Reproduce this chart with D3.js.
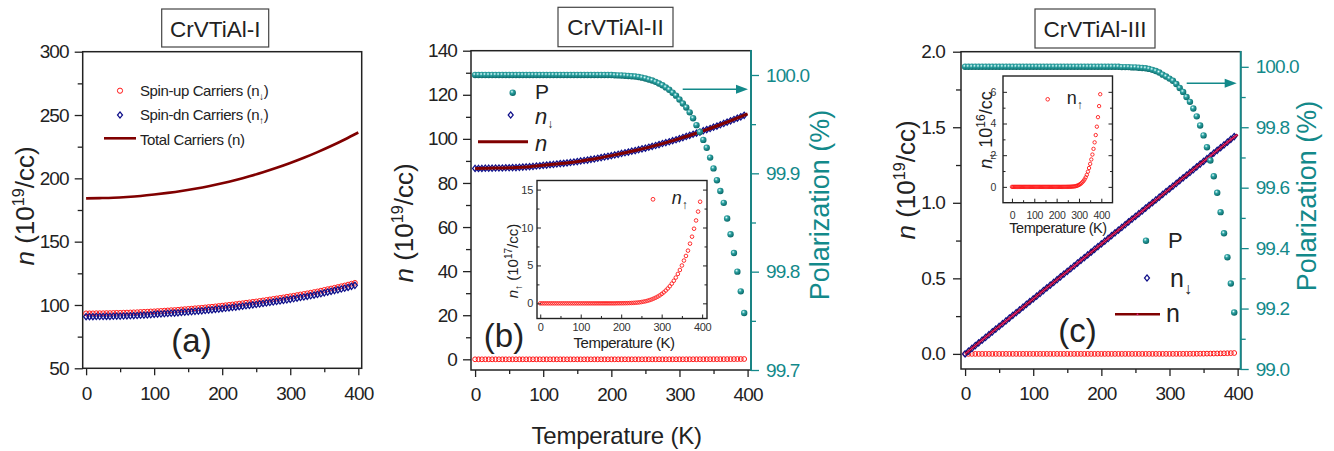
<!DOCTYPE html>
<html>
<head>
<meta charset="utf-8">
<script src="https://cdn.jsdelivr.net/npm/d3@7"></script>
<style>
body { margin: 0; background: #fff; }
svg { display: block; font-family: "Liberation Sans", Arial, sans-serif; }
</style>
</head>
<body>
<div id="chart"></div>
<script>
// temperatures of the marker series (K) and of the smooth lines
var tempK = [0,5,10,15,20,25,30,35,40,45,
  50,55,60,65,70,75,80,85,90,95,
  100,105,110,115,120,125,130,135,140,145,
  150,155,160,165,170,175,180,185,190,195,
  200,205,210,215,220,225,230,235,240,245,
  250,255,260,265,270,275,280,285,290,295,
  300,305,310,315,320,325,330,335,340,345,
  350,355,360,365,370,375,380,385,390,395];
var tempLine = [0,20,40,60,80,100,120,140,160,180,200,220,240,260,280,300,320,340,360,380,400];

// (a) CrVTiAl-I, 10^19/cc
var aSpinUp = [93.4,93.4,93.4,93.5,93.5,93.5,93.6,93.6,93.7,93.8,
  93.8,93.9,94.0,94.1,94.2,94.3,94.5,94.6,94.7,94.9,
  95.0,95.2,95.3,95.5,95.7,95.9,96.0,96.2,96.5,96.7,
  96.9,97.1,97.4,97.6,97.8,98.1,98.4,98.6,98.9,99.2,
  99.5,99.8,100.1,100.4,100.7,101.1,101.4,101.8,102.1,102.5,
  102.8,103.2,103.6,104.0,104.4,104.8,105.2,105.6,106.0,106.5,
  106.9,107.3,107.8,108.3,108.7,109.2,109.7,110.2,110.7,111.3,
  111.9,112.5,113.0,113.6,114.2,114.8,115.4,116.1,116.8,117.5];
var aSpinDn = [90.8,90.8,90.8,90.9,90.9,90.9,91.0,91.0,91.1,91.2,
  91.2,91.3,91.4,91.5,91.6,91.7,91.9,92.0,92.1,92.3,
  92.6,92.8,92.9,93.1,93.3,93.5,93.6,93.8,94.1,94.3,
  94.5,94.7,95.0,95.2,95.4,95.7,96.0,96.2,96.5,96.8,
  97.1,97.4,97.7,98.0,98.3,98.7,99.0,99.4,99.7,100.1,
  100.4,100.8,101.2,101.6,102.0,102.4,102.8,103.2,103.6,104.1,
  104.5,104.9,105.4,105.9,106.3,106.8,107.3,107.8,108.3,108.9,
  109.6,110.2,110.8,111.4,112.0,112.6,113.2,113.9,114.7,115.5];
var aTotal = [184.2,184.4,184.7,185.3,186.1,187.2,188.5,190.0,191.8,193.8,196.1,
  198.7,201.6,204.8,208.3,212.1,216.2,220.7,225.5,230.7,236.2];

// (b) CrVTiAl-II
var bSpinDn = [86.6,86.6,86.6,86.7,86.7,86.7,86.8,86.8,86.8,86.9,
  86.9,87.0,87.0,87.1,87.2,87.3,87.4,87.5,87.7,87.8,
  88.0,88.1,88.3,88.4,88.6,88.8,88.9,89.1,89.3,89.5,
  89.7,90.0,90.2,90.4,90.7,90.9,91.2,91.5,91.8,92.1,
  92.4,92.7,93.0,93.4,93.7,94.0,94.4,94.7,95.1,95.5,
  95.8,96.2,96.6,97.0,97.4,97.9,98.3,98.7,99.2,99.6,
  100.1,100.6,101.1,101.6,102.1,102.6,103.1,103.7,104.2,104.7,
  105.3,105.8,106.4,107.0,107.6,108.2,108.8,109.4,110.0,110.7];
var bTotal = [86.6,86.7,86.8,87.0,87.4,88.0,88.6,89.3,90.2,91.2,92.4,
  93.7,95.1,96.6,98.3,100.1,102.1,104.2,106.4,108.8,111.3];
// spin-up carriers, 10^17/cc (inset)
var bSpinUp = [0,0,0,0,0,0,0,0,0,0,
  0,0,0,0,0,0,0,0,0,0,
  0,0,0,0,0,0,0,0,0,0,
  0,0,0,0,0,0,0,0,0.01,0.01,
  0.01,0.015,0.02,0.025,0.035,0.045,0.06,0.08,0.1,0.13,
  0.17,0.22,0.27,0.34,0.42,0.51,0.62,0.74,0.88,1.04,
  1.23,1.44,1.68,1.95,2.25,2.6,2.98,3.4,3.88,4.4,
  4.99,5.64,6.25,6.95,7.87,8.79,9.84,10.93,12.1,13.4];
var bPol = [100,100,100,100,100,100,100,100,100,100,
  100,100,100,100,100,100,100,100,100,100,
  100,100,100,100,100,100,100,100,100,100,
  100,100,100,100,100,100,100,100,100,100,
  100,99.9997,99.9996,99.9995,99.9993,99.999,99.9987,99.9984,99.998,99.9973,
  99.9965,99.9954,99.9944,99.993,99.9914,99.9896,99.9874,99.985,99.982,99.979,
  99.975,99.971,99.967,99.962,99.956,99.949,99.942,99.934,99.926,99.916,
  99.905,99.893,99.882,99.870,99.854,99.838,99.819,99.800,99.780,99.758];

// (c) CrVTiAl-III
var cSpinDn = [0,0.018,0.036,0.055,0.073,0.091,0.109,0.127,0.146,0.164,
  0.182,0.200,0.218,0.237,0.255,0.273,0.291,0.309,0.328,0.346,
  0.364,0.382,0.400,0.419,0.437,0.455,0.473,0.491,0.510,0.528,
  0.546,0.564,0.582,0.601,0.619,0.637,0.655,0.673,0.692,0.710,
  0.728,0.746,0.764,0.783,0.801,0.819,0.837,0.855,0.874,0.892,
  0.910,0.928,0.946,0.965,0.983,1.001,1.019,1.037,1.056,1.074,
  1.092,1.110,1.128,1.147,1.165,1.183,1.201,1.219,1.238,1.256,
  1.274,1.292,1.310,1.329,1.347,1.365,1.383,1.401,1.420,1.438];
var cTotal = [0,0.073,0.146,0.218,0.291,0.364,0.437,0.510,0.582,0.655,0.728,
  0.801,0.874,0.946,1.019,1.092,1.165,1.238,1.310,1.383,1.452];
// spin-up carriers, 10^16/cc (inset)
var cSpinUp = [0,0,0,0,0,0,0,0,0,0,
  0,0,0,0,0,0,0,0,0,0,
  0,0,0,0,0,0,0,0,0,0,
  0,0,0,0,0,0,0,0,0,0,
  0,0,0,0,0,0,0.001,0.001,0.002,0.003,
  0.004,0.006,0.008,0.011,0.016,0.023,0.032,0.045,0.065,0.09,
  0.125,0.17,0.22,0.29,0.37,0.47,0.6,0.76,0.96,1.19,
  1.45,1.73,2.04,2.4,2.81,3.27,3.8,4.4,5.1,5.85];
var cPol = [100,100,100,100,100,100,100,100,100,100,
  100,100,100,100,100,100,100,100,100,100,
  100,100,100,100,100,100,100,100,100,100,
  100,100,100,100,100,100,100,100,100,100,
  100,100,100,100,100,100,99.999,99.999,99.999,99.998,
  99.998,99.997,99.996,99.995,99.993,99.99,99.986,99.981,99.974,99.968,
  99.961,99.954,99.943,99.93,99.917,99.90,99.884,99.862,99.836,99.806,
  99.773,99.734,99.69,99.638,99.583,99.519,99.449,99.37,99.283,99.187];

var teal = "#13898a", navy = "#10108a", red = "#ff1a1a", dark = "#800000", ink = "#222";

var svg = d3.select("#chart").append("svg").attr("width", 1334).attr("height", 451);

var grad = svg.append("defs").append("radialGradient")
    .attr("id", "ball").attr("cx", "38%").attr("cy", "34%").attr("r", "64%");
grad.append("stop").attr("offset", "0").attr("stop-color", "#e9ffff");
grad.append("stop").attr("offset", "0.38").attr("stop-color", "#2da2a2");
grad.append("stop").attr("offset", "1").attr("stop-color", "#0a6a6a");

function mkPanel(p) {
  p.x = d3.scaleLinear().domain(p.xDom).range([p.x0, p.x1]);
  p.y = d3.scaleLinear().domain(p.yDom).range([p.y1, p.y0]);
  if (p.rDom) p.r = d3.scaleLinear().domain(p.rDom).range([p.y1, p.y0]);
  return p;
}

var pa = mkPanel({x0: 82.7, x1: 361.7, y0: 51.7, y1: 368.3, xDom: [-5, 405], yDom: [50, 300]});
var pb = mkPanel({x0: 471, x1: 751, y0: 50.7, y1: 370, xDom: [-6, 405], yDom: [-4.85, 140], rDom: [99.7, 100.0247]});
var pc = mkPanel({x0: 961, x1: 1240.7, y0: 51.7, y1: 369, xDom: [-6, 404.5], yDom: [-0.1, 2.0], rDom: [99.0, 100.05]});
var ib = mkPanel({x0: 537, x1: 707, y0: 180.5, y1: 318.5, xDom: [-8, 412], yDom: [-2, 16.2]});
var ic = mkPanel({x0: 1003, x1: 1112.5, y0: 76, y1: 202.7, xDom: [-40, 450], yDom: [-1, 7]});

function frame(p, sw, rightColor) {
  svg.append("rect").attr("x", p.x0).attr("y", p.y0)
    .attr("width", p.x1 - p.x0).attr("height", p.y1 - p.y0)
    .attr("fill", "#fff").attr("stroke", ink).attr("stroke-width", sw);
  if (rightColor) {
    svg.append("line").attr("x1", p.x1).attr("x2", p.x1).attr("y1", p.y0 - 0.7).attr("y2", p.y1 + 0.7)
      .attr("stroke", rightColor).attr("stroke-width", sw + 0.3);
  }
}

function drawAxis(gen, scale, pos, major, minor, o) {
  var g = svg.append("g").attr("transform", "translate(" + pos + ")").style("color", o.color || ink);
  g.append("g").call(gen(scale).tickValues(minor).tickSize(o.minor).tickFormat(""));
  var t = g.append("g").call(gen(scale).tickValues(major)
    .tickSize(o.major).tickPadding(o.pad).tickFormat(o.noLabels ? "" : o.fmt));
  g.selectAll(".domain").remove();
  g.selectAll("line").attr("stroke-width", o.sw || 1.3);
  g.selectAll("g").attr("font-size", null).attr("font-family", null);
  t.selectAll("text").style("font-size", o.fs + "px")
    .style("letter-spacing", (o.ls || 0) + "px")
    .attr("fill", o.textColor || ink);
}

function circles(p, xs, ys, yScale, r, color, sw) {
  svg.append("g").selectAll("circle").data(xs).enter().append("circle")
    .attr("cx", function(d) { return p.x(d); })
    .attr("cy", function(d, i) { return yScale(ys[i]); })
    .attr("r", r).attr("fill", "none").attr("stroke", color).attr("stroke-width", sw);
}
var diamondPath = "M0,-3.1L2.5,0L0,3.1L-2.5,0Z";
function diamonds(p, xs, ys) {
  svg.append("g").selectAll("path").data(xs).enter().append("path")
    .attr("d", diamondPath)
    .attr("transform", function(d, i) { return "translate(" + p.x(d) + "," + p.y(ys[i]) + ")"; })
    .attr("fill", "none").attr("stroke", navy).attr("stroke-width", 1.25);
}
function balls(p, xs, ys) {
  svg.append("g").selectAll("circle").data(xs).enter().append("circle")
    .attr("cx", function(d) { return p.x(d); })
    .attr("cy", function(d, i) { return p.r(ys[i]); })
    .attr("r", 3.2).attr("fill", "url(#ball)");
}
function curve(p, xs, ys, color, w) {
  var line = d3.line().curve(d3.curveMonotoneX)
    .x(function(d) { return p.x(d); })
    .y(function(d, i) { return p.y(ys[i]); });
  svg.append("path").datum(xs).attr("d", line)
    .attr("fill", "none").attr("stroke", color).attr("stroke-width", w);
}
function arrow(x1, x2, y) {
  svg.append("line").attr("x1", x1).attr("x2", x2 - 8).attr("y1", y).attr("y2", y)
    .attr("stroke", teal).attr("stroke-width", 1.6);
  svg.append("path").attr("d", "M" + x2 + "," + y + "L" + (x2 - 12) + "," + (y - 4.5) + "L" + (x2 - 12) + "," + (y + 4.5) + "Z")
    .attr("fill", teal);
}
function txt(x, y, size, anchor, color) {
  return svg.append("text").attr("x", x).attr("y", y).attr("font-size", size)
    .attr("text-anchor", anchor || "start").attr("fill", color || ink);
}
function titleBox(x, y, w, h, label) {
  svg.append("rect").attr("x", x).attr("y", y).attr("width", w).attr("height", h)
    .attr("fill", "#fff").attr("stroke", "#444").attr("stroke-width", 1.2);
  txt(x + w / 2, y + 27.5, 22.5, "middle").text(label);
}
function yTitle(x, y, size, sup) {
  var t = svg.append("text").attr("transform", "translate(" + x + "," + y + ") rotate(-90)")
    .attr("text-anchor", "middle").attr("font-size", size).attr("fill", ink);
  t.append("tspan").attr("font-style", "italic").text("n");
  t.append("tspan").text(" (10");
  t.append("tspan").attr("dy", -size * 0.38).attr("font-size", size * 0.62).text(sup);
  t.append("tspan").attr("dy", size * 0.38).text("/cc)");
}
function polTitle(x, y) {
  svg.append("text").attr("transform", "translate(" + x + "," + y + ") rotate(-90)")
    .attr("text-anchor", "middle").attr("font-size", 27).attr("fill", teal).text("Polarization (%)");
}

var mainTick = {major: 7, minor: 4, pad: 11, fs: 19, ls: -0.9, fmt: d3.format("d")};
var leftTick = {major: 8, minor: 5, pad: 6, fs: 19, ls: -0.9, fmt: d3.format("d")};
var rightTick = {major: 8, minor: 5, pad: 7, fs: 19, ls: -0.9, fmt: d3.format(".1f"), color: teal, textColor: teal};

// ---------- (a) ----------
frame(pa, 1.5);
circles(pa, tempK, aSpinUp, pa.y, 2.4, red, 1);
diamonds(pa, tempK, aSpinDn);
curve(pa, tempLine, aTotal, dark, 2.6);
drawAxis(d3.axisBottom, pa.x, [0, pa.y1], [0, 100, 200, 300, 400], [50, 150, 250, 350], mainTick);
drawAxis(d3.axisLeft, pa.y, [pa.x0, 0], [50, 100, 150, 200, 250, 300], [75, 125, 175, 225, 275], leftTick);
titleBox(161.7, 9, 107, 38, "CrVTiAl-I");
yTitle(33.5, 206, 26, "19");
txt(191.5, 351.5, 33, "middle").text("(a)");

svg.append("circle").attr("cx", 120).attr("cy", 90.7).attr("r", 2.6).attr("fill", "none").attr("stroke", red).attr("stroke-width", 1);
svg.append("path").attr("d", diamondPath).attr("transform", "translate(120,115)").attr("fill", "none").attr("stroke", navy).attr("stroke-width", 1.25);
svg.append("line").attr("x1", 104).attr("x2", 136).attr("y1", 138.3).attr("y2", 138.3).attr("stroke", dark).attr("stroke-width", 2.6);
var la = [["Spin-up Carriers (n", "\u2193", 96], ["Spin-dn Carriers (n", "\u2191", 120.3], ["Total Carriers (n)", null, 144.5]];
la.forEach(function(l) {
  var t = txt(140, l[2], 15).style("letter-spacing", "-0.4px");
  t.append("tspan").text(l[0]);
  if (l[1]) {
    t.append("tspan").attr("dy", 4).attr("font-size", 10).text(l[1]);
    t.append("tspan").attr("dy", -4).text(")");
  }
});

// ---------- (b) ----------
frame(pb, 1.5, teal);
circles(pb, tempK, bSpinUp.map(function(v) { return v / 100; }), pb.y, 2.4, red, 1);
diamonds(pb, tempK, bSpinDn);
curve(pb, tempLine, bTotal, dark, 3);
balls(pb, tempK, bPol);
drawAxis(d3.axisBottom, pb.x, [0, pb.y1], [0, 100, 200, 300, 400], [50, 150, 250, 350], mainTick);
drawAxis(d3.axisLeft, pb.y, [pb.x0, 0], [0, 20, 40, 60, 80, 100, 120, 140], [10, 30, 50, 70, 90, 110, 130], leftTick);
drawAxis(d3.axisRight, pb.r, [pb.x1, 0], [99.7, 99.8, 99.9, 100.0], [99.75, 99.85, 99.95], rightTick);
arrow(682.7, 748, 89.3);
titleBox(558, 7.3, 115, 39.4, "CrVTiAl-II");
yTitle(413, 223, 26, "19");
polTitle(829, 205);
txt(504, 346.7, 33, "middle").text("(b)");
txt(616.7, 444, 24, "middle").style("letter-spacing", "-0.2px").text("Temperature (K)");

svg.append("circle").attr("cx", 512.7).attr("cy", 92.7).attr("r", 3.2).attr("fill", "url(#ball)");
txt(535, 99, 21).text("P");
svg.append("path").attr("d", diamondPath).attr("transform", "translate(510.7,115)").attr("fill", "none").attr("stroke", navy).attr("stroke-width", 1.25);
var lb = txt(535, 124, 22);
lb.append("tspan").attr("font-style", "italic").text("n");
lb.append("tspan").attr("dy", 4).attr("font-size", 12).text("\u2193");
svg.append("line").attr("x1", 478).attr("x2", 528).attr("y1", 141.7).attr("y2", 141.7).attr("stroke", dark).attr("stroke-width", 3);
txt(535, 151, 22).attr("font-style", "italic").text("n");

// inset (b)
frame(ib, 1.4);
circles(ib, tempK, bSpinUp, ib.y, 1.8, red, 0.9);
var insetTick = {major: -4, minor: -2.5, pad: 5, fs: 11, ls: -0.3, fmt: d3.format("d"), sw: 1, textColor: "#333"};
drawAxis(d3.axisBottom, ib.x, [0, ib.y1], [0, 100, 200, 300, 400], [50, 150, 250, 350], insetTick);
drawAxis(d3.axisLeft, ib.y, [ib.x0, 0], [0, 5, 10, 15], [2.5, 7.5, 12.5], Object.assign({}, insetTick, {pad: 4}));
drawAxis(d3.axisRight, ib.y, [ib.x1, 0], [0, 5, 10, 15], [2.5, 7.5, 12.5], Object.assign({}, insetTick, {noLabels: true}));
txt(624, 348, 15, "middle").style("letter-spacing", "-0.5px").text("Temperature (K)");
var yb = svg.append("text").attr("transform", "translate(518,261) rotate(-90)")
  .attr("text-anchor", "middle").attr("font-size", 15).attr("fill", ink);
yb.append("tspan").attr("font-style", "italic").text("n");
yb.append("tspan").attr("dy", 4).attr("font-size", 10).text("\u2191");
yb.append("tspan").attr("dy", -4).text(" (10");
yb.append("tspan").attr("dy", -6).attr("font-size", 10).text("17");
yb.append("tspan").attr("dy", 6).text("/cc)");
svg.append("circle").attr("cx", 653).attr("cy", 199.3).attr("r", 1.9).attr("fill", "none").attr("stroke", red).attr("stroke-width", 0.9);
var lib = txt(671.7, 204, 18);
lib.append("tspan").attr("font-style", "italic").text("n");
lib.append("tspan").attr("dy", 5).attr("font-size", 12).text("\u2191");

// ---------- (c) ----------
frame(pc, 1.5, teal);
circles(pc, tempK, cSpinUp.map(function(v) { return v / 1000; }), pc.y, 2.4, red, 1);
diamonds(pc, tempK, cSpinDn);
curve(pc, tempLine, cTotal, dark, 2.6);
curve(pc, tempLine, cTotal, "#e8208a", 1.1);
balls(pc, tempK, cPol);
drawAxis(d3.axisBottom, pc.x, [0, pc.y1], [0, 100, 200, 300, 400], [50, 150, 250, 350], mainTick);
drawAxis(d3.axisLeft, pc.y, [pc.x0, 0], [0, 0.5, 1.0, 1.5, 2.0], [0.25, 0.75, 1.25, 1.75],
  Object.assign({}, leftTick, {fmt: d3.format(".1f"), pad: 8}));
drawAxis(d3.axisRight, pc.r, [pc.x1, 0], [99.0, 99.2, 99.4, 99.6, 99.8, 100.0], [99.1, 99.3, 99.5, 99.7, 99.9], rightTick);
arrow(1186.7, 1236.7, 83.3);
titleBox(1035, 9, 120, 39, "CrVTiAl-III");
yTitle(915, 180, 26, "19");
polTitle(1316, 196);
txt(1077.5, 341.7, 33, "middle").text("(c)");

svg.append("circle").attr("cx", 1146).attr("cy", 240.7).attr("r", 3.2).attr("fill", "url(#ball)");
txt(1168, 248.3, 22).text("P");
svg.append("path").attr("d", diamondPath).attr("transform", "translate(1147,278)").attr("fill", "none").attr("stroke", navy).attr("stroke-width", 1.25);
var lc = txt(1170, 286.7, 25);
lc.append("tspan").text("n");
lc.append("tspan").attr("dy", 7).attr("font-size", 16).text("\u2193");
svg.append("line").attr("x1", 1115).attr("x2", 1160).attr("y1", 314.3).attr("y2", 314.3).attr("stroke", dark).attr("stroke-width", 2.6);
svg.append("circle").attr("cx", 1137.5).attr("cy", 314.3).attr("r", 0.9).attr("fill", "#e8208a");
txt(1166, 321.7, 25).text("n");

// inset (c)
frame(ic, 1.4);
circles(ic, tempK, cSpinUp, ic.y, 1.7, red, 0.9);
var insetTickC = {major: -4, minor: -2.5, pad: 9, fs: 10.5, ls: -0.3, fmt: d3.format("d"), sw: 1, textColor: "#333"};
drawAxis(d3.axisBottom, ic.x, [0, ic.y1], [0, 100, 200, 300, 400], [50, 150, 250, 350], insetTickC);
drawAxis(d3.axisLeft, ic.y, [ic.x0, 0], [0, 2, 4, 6], [1, 3, 5], Object.assign({}, insetTickC, {pad: 7}));
drawAxis(d3.axisRight, ic.y, [ic.x1, 0], [0, 2, 4, 6], [1, 3, 5], Object.assign({}, insetTickC, {noLabels: true}));
txt(1058, 233, 14.5, "middle").style("letter-spacing", "-0.5px").text("Temperature (K)");
var yc = svg.append("text").attr("transform", "translate(992,130) rotate(-90)")
  .attr("text-anchor", "middle").attr("font-size", 18).attr("fill", ink);
yc.append("tspan").attr("font-style", "italic").text("n");
yc.append("tspan").attr("dy", 5).attr("font-size", 12).text("\u2191");
yc.append("tspan").attr("dy", -5).text(" 10");
yc.append("tspan").attr("dy", -7).attr("font-size", 12).text("16");
yc.append("tspan").attr("dy", 7).text("/cc");
svg.append("circle").attr("cx", 1047.7).attr("cy", 99.3).attr("r", 1.8).attr("fill", "none").attr("stroke", red).attr("stroke-width", 0.9);
var lic = txt(1066.7, 104, 18);
lic.append("tspan").text("n");
lic.append("tspan").attr("dy", 5).attr("font-size", 12).text("\u2191");
</script>
</body>
</html>
